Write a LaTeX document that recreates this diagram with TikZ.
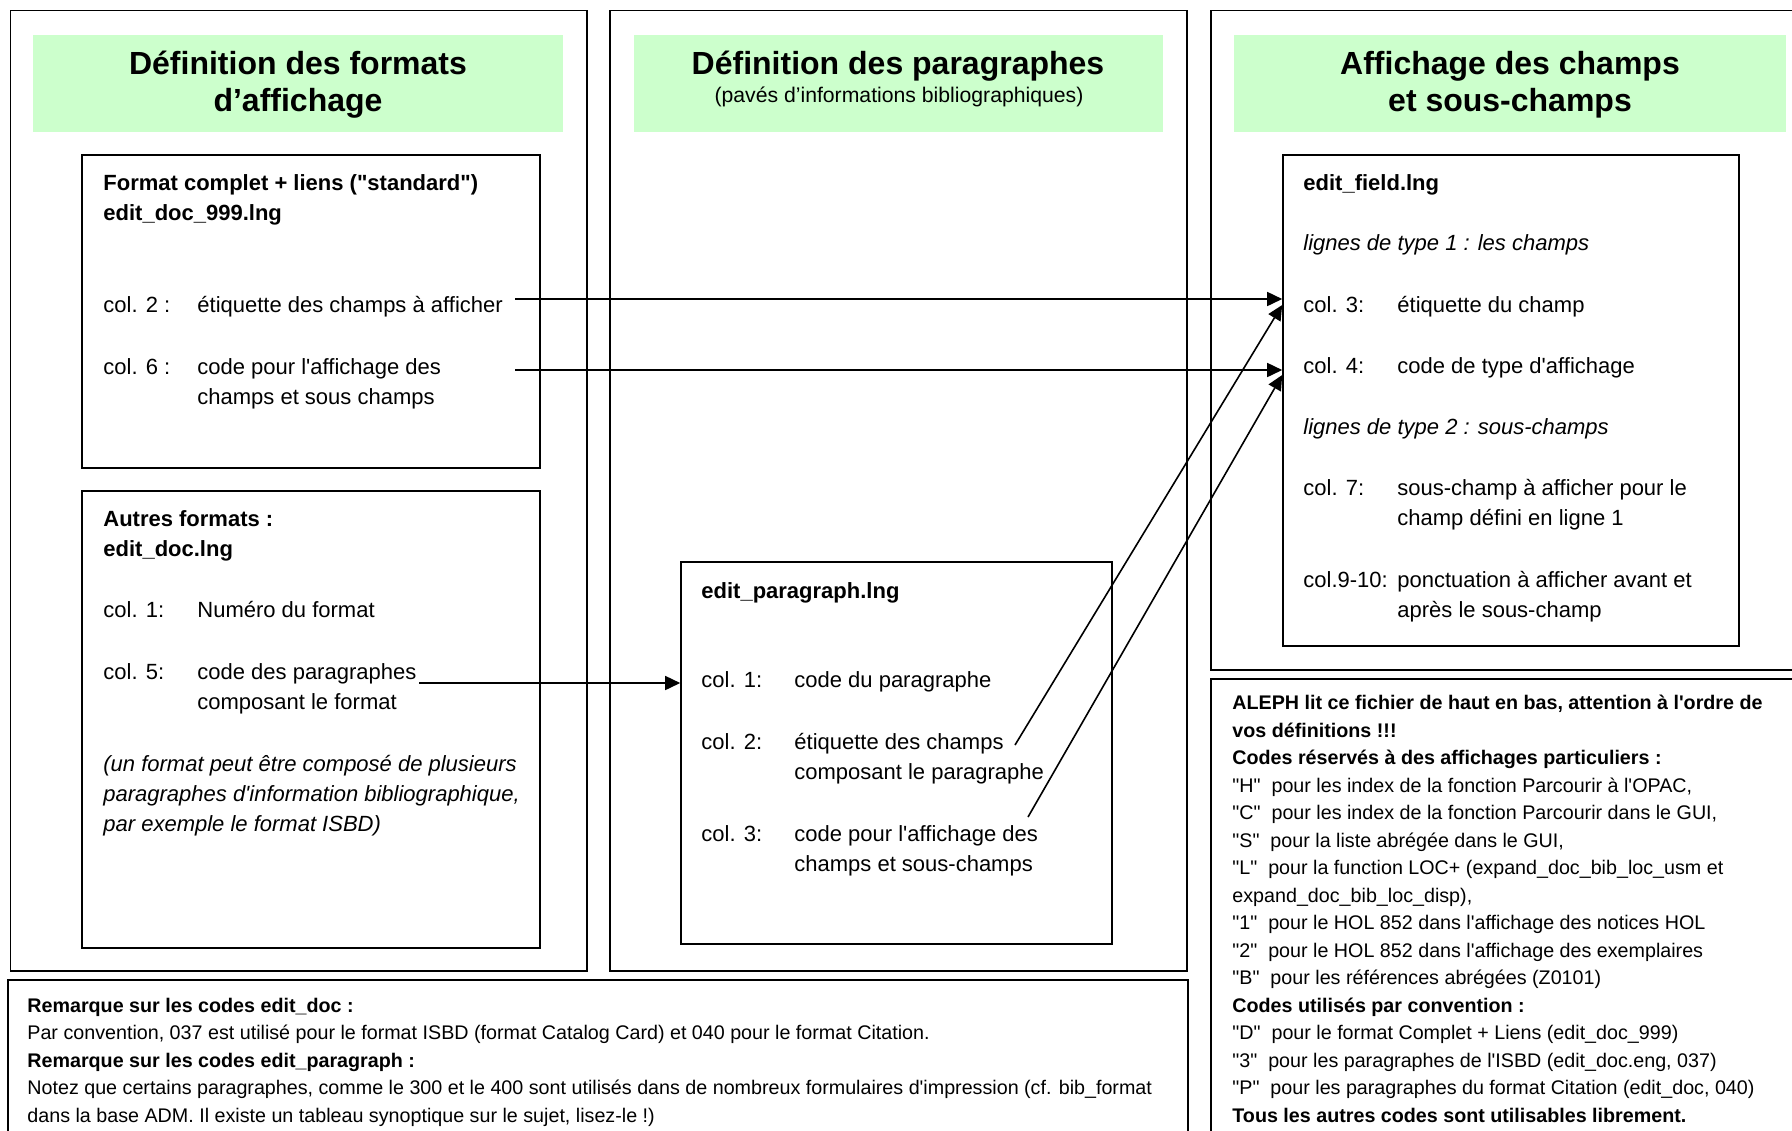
\documentclass[tikz,border=0pt]{standalone}
\usepackage{fontspec}
\setmainfont{Liberation Sans}[Ligatures=TeXOff]
\usetikzlibrary{arrows.meta,fit}
\definecolor{headgreen}{RGB}{204,255,204}
\newcommand{\boxfont}{\fontsize{11}{15}\selectfont}
\newcommand{\headfont}{\fontsize{16}{18.5}\selectfont\bfseries}
\newcommand{\subheadfont}{\fontsize{10.6}{12}\selectfont}
\newcommand{\notefont}{\fontsize{9.85}{13.75}\selectfont}
\tikzset{
  panel/.style={draw, line width=0.8pt, inner sep=0pt},
  header/.style={fill=headgreen, inner sep=0pt},
  filebox/.style={draw, line width=0.8pt, inner sep=0pt},
  txt/.style={anchor=base west, inner sep=0pt, align=left, font=\boxfont},
  ttl/.style={anchor=base, inner sep=0pt, align=center, font=\headfont},
  note/.style={anchor=base west, inner sep=0pt, align=left, font=\notefont},
  arr/.style={-{Triangle[length=7.5pt,width=7pt]}, line width=0.8pt}
}
\begin{document}
\begin{tikzpicture}[x=0.5pt, y=-0.5pt]
    \useasboundingbox (0,0) rectangle (1792,1130);
    \clip (0,0) rectangle (1792,1130);

    % Columns
    \node[panel, fit={(10.5,10.5) (587,971)}] (colFormats) {};
    \node[panel, fit={(610,10.5) (1187,971)}] (colParas) {};
    \node[panel, fit={(1211,10.5) (1830,670)}] (colFields) {};

    % Headers (multi-line texts sit on their last baseline)
    \node[header, fit={(33,35) (563,132)}] (headFormats) {};
    \node[header, fit={(634,35) (1163,132)}] (headParas) {};
    \node[header, fit={(1234,35) (1786,132)}] (headFields) {};
    \node[ttl] (ttlFormats) at (298,111) {Définition des formats\\d’affichage};
    \node[ttl] (ttlParas) at (898,74) {Définition des paragraphes};
    \node[anchor=base, inner sep=0pt, font=\subheadfont] (subParas) at (899,102) {(pavés d’informations bibliographiques)};
    \node[ttl] (ttlFields) at (1510,111) {Affichage des champs\\et sous-champs};

    % File boxes
    \node[filebox, fit={(82,155) (540,468)}] (fmtStd) {};
    \node[filebox, fit={(82,491) (540,948)}] (fmtOther) {};
    \node[filebox, fit={(681,562) (1112,944)}] (paraFile) {};
    \node[filebox, fit={(1283,155) (1739,646)}] (fieldFile) {};

    % edit_doc_999.lng
    \node[txt, font=\boxfont\bfseries] (stdName) at (103,220) {Format complet + liens ("standard")\\edit\_doc\_999.lng};
    \node[txt] (stdC2) at (103,312) {col. 2 :};
    \node[txt] (stdC2t) at (197,312) {étiquette des champs à afficher};
    \node[txt] (stdC6) at (103,374) {col. 6 :};
    \node[txt] (stdC6t) at (197,404) {code pour l'affichage des\\champs et sous champs};

    % edit_doc.lng
    \node[txt, font=\boxfont\bfseries] (othName) at (103,556) {Autres formats :\\edit\_doc.lng};
    \node[txt] (othC1) at (103,617) {col. 1:};
    \node[txt] (othC1t) at (197,617) {Numéro du format};
    \node[txt] (othC5) at (103,679) {col. 5:};
    \node[txt] (othC5t) at (197,709) {code des paragraphes\\composant le format};
    \node[txt, font=\boxfont\itshape] (othNote) at (103,831) {(un format peut être composé de plusieurs\\paragraphes d'information bibliographique,\\par exemple le format ISBD)};

    % edit_paragraph.lng
    \node[txt, font=\boxfont\bfseries] (paraName) at (701,598) {edit\_paragraph.lng};
    \node[txt] (paraC1) at (701,687) {col. 1:};
    \node[txt] (paraC1t) at (794,687) {code du paragraphe};
    \node[txt] (paraC2) at (701,749) {col. 2:};
    \node[txt] (paraC2t) at (794,779) {étiquette des champs\\composant le paragraphe};
    \node[txt] (paraC3) at (701,841) {col. 3:};
    \node[txt] (paraC3t) at (794,871) {code pour l'affichage des\\champs et sous-champs};

    % edit_field.lng
    \node[txt, font=\boxfont\bfseries] (fieldName) at (1303,190) {edit\_field.lng};
    \node[txt, font=\boxfont\itshape] (fieldT1) at (1303,250) {lignes de type 1 : les champs};
    \node[txt] (fieldC3) at (1303,312) {col. 3:};
    \node[txt] (fieldC3t) at (1397,312) {étiquette du champ};
    \node[txt] (fieldC4) at (1303,373) {col. 4:};
    \node[txt] (fieldC4t) at (1397,373) {code de type d'affichage};
    \node[txt, font=\boxfont\itshape] (fieldT2) at (1303,434) {lignes de type 2 : sous-champs};
    \node[txt] (fieldC7) at (1303,495) {col. 7:};
    \node[txt] (fieldC7t) at (1397,525) {sous-champ à afficher pour le\\champ défini en ligne 1};
    \node[txt] (fieldC9) at (1303,587) {col.9-10:};
    \node[txt] (fieldC9t) at (1397,617) {ponctuation à afficher avant et\\après le sous-champ};

    % Notes
    \node[panel, fit={(8,980) (1188,1160)}] (noteCodes) {};
    \node[note] (noteCodesTxt) at (27,1122) {{\bfseries Remarque sur les codes edit\_doc :}\\
        Par convention, 037 est utilisé pour le format ISBD (format Catalog Card) et 040 pour le format Citation.\\
        {\bfseries Remarque sur les codes edit\_paragraph :}\\
        Notez que certains paragraphes, comme le 300 et le 400 sont utilisés dans de nombreux formulaires d'impression (cf. bib\_format\\
        dans la base ADM. Il existe un tableau synoptique sur le sujet, lisez-le !)};
    \node[panel, fit={(1211,679) (1830,1160)}] (noteAleph) {};
    \node[note] (noteAlephTxt) at (1232,1122) {{\bfseries ALEPH lit ce fichier de haut en bas, attention à l'ordre de}\\
        {\bfseries vos définitions !!!}\\
        {\bfseries Codes réservés à des affichages particuliers :}\\
        "H"~~pour les index de la fonction Parcourir à l'OPAC,\\
        "C"~~pour les index de la fonction Parcourir dans le GUI,\\
        "S"~~pour la liste abrégée dans le GUI,\\
        "L"~~pour la function LOC+ (expand\_doc\_bib\_loc\_usm et\\
        expand\_doc\_bib\_loc\_disp),\\
        "1"~~pour le HOL 852 dans l'affichage des notices HOL\\
        "2"~~pour le HOL 852 dans l'affichage des exemplaires\\
        "B"~~pour les références abrégées (Z0101)\\
        {\bfseries Codes utilisés par convention :}\\
        "D"~~pour le format Complet + Liens (edit\_doc\_999)\\
        "3"~~pour les paragraphes de l'ISBD (edit\_doc.eng, 037)\\
        "P"~~pour les paragraphes du format Citation (edit\_doc, 040)\\
        {\bfseries Tous les autres codes sont utilisables librement.}};

    % Links
    \coordinate (fromStd2) at (515,299);
    \coordinate (fromStd6) at (515,370);
    \coordinate (fromOth5) at (419,683);
    \coordinate (fromPara2) at (1015,745);
    \coordinate (fromPara3) at (1028,817);
    \draw[arr] (fromStd2) -- (fromStd2 -| fieldFile.west);
    \draw[arr] (fromStd6) -- (fromStd6 -| fieldFile.west);
    \draw[arr] (fromOth5) -- (fromOth5 -| paraFile.west);
    \draw[arr] (fromPara2) -- (fieldFile.west |- 0,305);
    \draw[arr] (fromPara3) -- (fieldFile.west |- 0,375);
\end{tikzpicture}
\end{document}
